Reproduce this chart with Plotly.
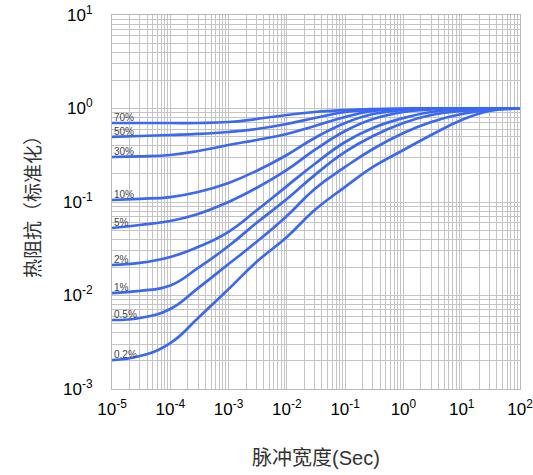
import numpy as np
import plotly.graph_objects as go

# pulse width (s)
pulse_width = [1e-5, 3e-5, 1e-4, 3e-4, 1e-3, 3e-3, 1e-2, 3e-2, 1e-1, 3e-1, 1, 3, 10, 30, 100]

duty_labels = ["70%", "50%", "30%", "10%", "5%", "2%", "1%", "0.5%", "0.2%"]

z_70 = [0.70, 0.70, 0.70, 0.70, 0.717, 0.772, 0.852, 0.918, 0.964, 0.988, 1.0, 1.0, 1.0, 1.0, 1.0]
z_50 = [0.496, 0.508, 0.521, 0.534, 0.561, 0.604, 0.683, 0.791, 0.918, 0.964, 0.988, 1.0, 1.0, 1.0, 1.0]
z_30 = [0.303, 0.307, 0.318, 0.351, 0.407, 0.460, 0.534, 0.650, 0.811, 0.940, 0.988, 1.0, 1.0, 1.0, 1.0]
z_10 = [0.105, 0.108, 0.113, 0.128, 0.160, 0.215, 0.318, 0.484, 0.700, 0.873, 0.964, 1.0, 1.0, 1.0, 1.0]
z_5 = [0.0527, 0.0568, 0.0626, 0.0744, 0.100, 0.141, 0.220, 0.360, 0.575, 0.772, 0.918, 0.976, 1.0, 1.0, 1.0]
z_2 = [0.0212, 0.0223, 0.0258, 0.0330, 0.0480, 0.0810, 0.148, 0.255, 0.438, 0.619, 0.791, 0.918, 0.976, 1.0, 1.0]
z_1 = [0.0106, 0.0112, 0.0128, 0.0197, 0.0338, 0.0596, 0.1077, 0.194, 0.343, 0.508, 0.700, 0.852, 0.940, 0.976, 1.0]
z_05 = [0.00547, 0.00575, 0.00717, 0.0120, 0.0217, 0.0373, 0.0709, 0.138, 0.237, 0.369, 0.547, 0.717, 0.873, 0.964, 1.0]
z_02 = [0.00204, 0.00225, 0.0031, 0.00575, 0.0117, 0.0228, 0.0422, 0.0821, 0.145, 0.237, 0.360, 0.521, 0.753, 0.940, 1.0]

series = [z_70, z_50, z_30, z_10, z_5, z_2, z_1, z_05, z_02]

x_exps = [-5, -4, -3, -2, -1, 0, 1, 2]
y_exps = [-3, -2, -1, 0, 1]

LINE = "#3a68f2"
GRID = "#c4c4c4"
FONT = "Arial, Liberation Sans, Noto Sans CJK SC, sans-serif"

fig = go.Figure()
for lab, ys in zip(duty_labels, series):
    fig.add_trace(go.Scatter(x=pulse_width, y=ys, mode="lines", name=lab,
                             line=dict(color=LINE, width=2.7, shape="spline", smoothing=1.3),
                             showlegend=False, hoverinfo="skip"))
    fig.add_annotation(x=np.log10(pulse_width[0]), y=np.log10(ys[0]), text=lab,
                       xanchor="left", yanchor="bottom", showarrow=False,
                       xshift=0, yshift=-2, font=dict(size=10, color="#444444", family=FONT))

axis_common = dict(type="log", showgrid=True, gridcolor=GRID, gridwidth=1,
                   showline=True, linecolor="#b8b8b8", linewidth=1, mirror=True,
                   ticks="", zeroline=False, automargin=False,
                   ticklabeloverflow="allow",
                   minor=dict(showgrid=True, gridcolor=GRID, gridwidth=1, dtick="D1"),
                   tickfont=dict(size=17, color="#000000", family=FONT))

fig.update_xaxes(**axis_common, range=[-5, 2], ticklabelstandoff=5,
                 tickmode="array", tickvals=[10.0 ** e for e in x_exps],
                 ticktext=[f"10<sup>{e}</sup>" for e in x_exps],
                 title=dict(text="脉冲宽度(Sec)", font=dict(size=20, color="#333333", family=FONT), standoff=32))
fig.update_yaxes(**axis_common, range=[-3, 1], ticklabelstandoff=15,
                 tickmode="array", tickvals=[10.0 ** e for e in y_exps],
                 ticktext=[f"10<sup>{e}</sup>" for e in y_exps],
                 title=dict(text="热阻抗（标准化）", font=dict(size=19, color="#333333", family=FONT), standoff=17))

fig.update_layout(width=533, height=475, margin=dict(l=112, r=13, t=15, b=86),
                  plot_bgcolor="white", paper_bgcolor="white")

fig.write_html("out.html")
